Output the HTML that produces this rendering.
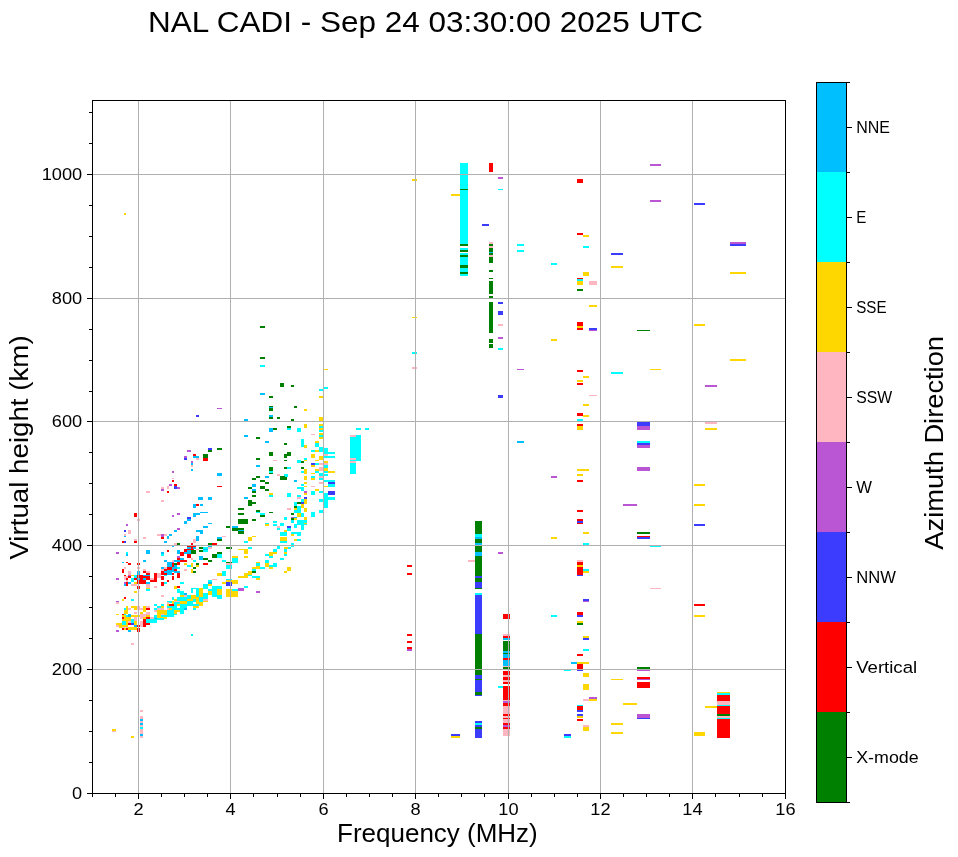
<!DOCTYPE html>
<html><head><meta charset="utf-8"><style>html,body{margin:0;padding:0;background:#fff;overflow:hidden}svg{display:block;will-change:transform}</style></head>
<body><svg width="958" height="857" viewBox="0 0 958 857" >
<rect width="958" height="857" fill="#fff"/>
<rect x="124" y="213" width="2" height="2" fill="#ffd700"/>
<rect x="260" y="326" width="5" height="2" fill="#008000"/>
<rect x="260" y="357" width="5" height="2" fill="#008000"/>
<rect x="260" y="365" width="5" height="2" fill="#00ffff"/>
<rect x="280" y="383" width="4" height="4" fill="#008000"/>
<rect x="291" y="385" width="3" height="2" fill="#008000"/>
<rect x="323" y="369" width="5" height="1" fill="#ffd700"/>
<rect x="319" y="389" width="4" height="2" fill="#00ffff"/>
<rect x="323" y="387" width="5" height="2" fill="#00ffff"/>
<rect x="260" y="393" width="5" height="2" fill="#00bfff"/>
<rect x="269" y="396" width="4" height="2" fill="#008000"/>
<rect x="319" y="396" width="4" height="2" fill="#ffd700"/>
<rect x="217" y="408" width="5" height="1" fill="#ba55d3"/>
<rect x="269" y="406" width="4" height="2" fill="#008000"/>
<rect x="269" y="408" width="4" height="2" fill="#008000"/>
<rect x="294" y="406" width="3" height="2" fill="#008000"/>
<rect x="304" y="409" width="3" height="2" fill="#ffd700"/>
<rect x="196" y="415" width="3" height="2" fill="#3c3cff"/>
<rect x="269" y="410" width="4" height="1" fill="#008000"/>
<rect x="304" y="410" width="3" height="1" fill="#ffd700"/>
<rect x="269" y="415" width="4" height="2" fill="#00bfff"/>
<rect x="269" y="417" width="4" height="2" fill="#008000"/>
<rect x="277" y="417" width="3" height="2" fill="#008000"/>
<rect x="291" y="419" width="3" height="2" fill="#008000"/>
<rect x="244" y="419" width="4" height="2" fill="#00bfff"/>
<rect x="319" y="417" width="4" height="4" fill="#ffd700"/>
<rect x="304" y="424" width="3" height="4" fill="#ffd700"/>
<rect x="287" y="426" width="4" height="2" fill="#008000"/>
<rect x="287" y="428" width="4" height="2" fill="#00ffff"/>
<rect x="269" y="428" width="4" height="4" fill="#00bfff"/>
<rect x="273" y="428" width="4" height="2" fill="#008000"/>
<rect x="297" y="428" width="4" height="4" fill="#00ffff"/>
<rect x="319" y="424" width="4" height="2" fill="#ffd700"/>
<rect x="319" y="426" width="4" height="2" fill="#00ffff"/>
<rect x="319" y="428" width="4" height="2" fill="#ffd700"/>
<rect x="319" y="430" width="4" height="2" fill="#00ffff"/>
<rect x="244" y="435" width="4" height="2" fill="#00bfff"/>
<rect x="256" y="437" width="4" height="2" fill="#008000"/>
<rect x="311" y="434" width="4" height="1" fill="#ffb6c1"/>
<rect x="319" y="433" width="4" height="2" fill="#ffd700"/>
<rect x="319" y="435" width="4" height="2" fill="#00ffff"/>
<rect x="319" y="437" width="4" height="2" fill="#ffd700"/>
<rect x="265" y="441" width="4" height="2" fill="#00bfff"/>
<rect x="284" y="443" width="3" height="2" fill="#008000"/>
<rect x="301" y="439" width="3" height="8" fill="#00ffff"/>
<rect x="304" y="445" width="3" height="3" fill="#ffd700"/>
<rect x="315" y="441" width="4" height="2" fill="#ffd700"/>
<rect x="315" y="443" width="4" height="4" fill="#00ffff"/>
<rect x="208" y="448" width="4" height="2" fill="#3c3cff"/>
<rect x="208" y="450" width="4" height="2" fill="#008000"/>
<rect x="217" y="448" width="5" height="2" fill="#008000"/>
<rect x="203" y="454" width="5" height="4" fill="#008000"/>
<rect x="203" y="458" width="5" height="3" fill="#ff0000"/>
<rect x="269" y="452" width="4" height="4" fill="#008000"/>
<rect x="284" y="454" width="3" height="4" fill="#008000"/>
<rect x="287" y="452" width="4" height="4" fill="#008000"/>
<rect x="311" y="450" width="4" height="2" fill="#00ffff"/>
<rect x="315" y="450" width="4" height="2" fill="#ffd700"/>
<rect x="319" y="447" width="4" height="5" fill="#00ffff"/>
<rect x="324" y="448" width="4" height="6" fill="#00ffff"/>
<rect x="328" y="452" width="7" height="2" fill="#00ffff"/>
<rect x="324" y="454" width="4" height="2" fill="#ffb6c1"/>
<rect x="324" y="456" width="11" height="2" fill="#00ffff"/>
<rect x="311" y="454" width="4" height="4" fill="#ffd700"/>
<rect x="319" y="456" width="4" height="4" fill="#ffd700"/>
<rect x="256" y="458" width="4" height="2" fill="#008000"/>
<rect x="273" y="460" width="4" height="1" fill="#ffb6c1"/>
<rect x="284" y="460" width="3" height="1" fill="#008000"/>
<rect x="297" y="460" width="4" height="3" fill="#00ffff"/>
<rect x="301" y="461" width="3" height="2" fill="#008000"/>
<rect x="304" y="458" width="3" height="2" fill="#00ffff"/>
<rect x="304" y="460" width="3" height="1" fill="#ffd700"/>
<rect x="315" y="460" width="4" height="1" fill="#ffd700"/>
<rect x="324" y="461" width="4" height="2" fill="#ffd700"/>
<rect x="311" y="463" width="4" height="2" fill="#3c3cff"/>
<rect x="315" y="463" width="4" height="2" fill="#00ffff"/>
<rect x="319" y="463" width="4" height="2" fill="#ffb6c1"/>
<rect x="324" y="463" width="4" height="2" fill="#ffb6c1"/>
<rect x="311" y="465" width="4" height="2" fill="#ffd700"/>
<rect x="256" y="465" width="4" height="2" fill="#00bfff"/>
<rect x="324" y="465" width="4" height="3" fill="#00ffff"/>
<rect x="269" y="467" width="4" height="4" fill="#008000"/>
<rect x="269" y="471" width="4" height="2" fill="#00ffff"/>
<rect x="269" y="473" width="4" height="1" fill="#008000"/>
<rect x="284" y="467" width="3" height="2" fill="#008000"/>
<rect x="287" y="467" width="4" height="2" fill="#00ffff"/>
<rect x="301" y="467" width="3" height="2" fill="#008000"/>
<rect x="319" y="467" width="4" height="4" fill="#ffb6c1"/>
<rect x="315" y="469" width="4" height="2" fill="#ffd700"/>
<rect x="304" y="469" width="3" height="5" fill="#ffd700"/>
<rect x="301" y="471" width="3" height="2" fill="#00ffff"/>
<rect x="315" y="471" width="4" height="2" fill="#00ffff"/>
<rect x="324" y="468" width="4" height="3" fill="#ffd700"/>
<rect x="328" y="471" width="7" height="2" fill="#ffd700"/>
<rect x="324" y="471" width="4" height="2" fill="#00ffff"/>
<rect x="311" y="473" width="4" height="1" fill="#ffd700"/>
<rect x="319" y="473" width="4" height="3" fill="#00ffff"/>
<rect x="324" y="474" width="4" height="2" fill="#00ffff"/>
<rect x="217" y="473" width="5" height="3" fill="#00bfff"/>
<rect x="277" y="474" width="3" height="2" fill="#ffb6c1"/>
<rect x="284" y="474" width="3" height="4" fill="#00ffff"/>
<rect x="280" y="476" width="7" height="4" fill="#008000"/>
<rect x="256" y="476" width="4" height="2" fill="#008000"/>
<rect x="252" y="478" width="4" height="2" fill="#008000"/>
<rect x="265" y="476" width="4" height="2" fill="#00bfff"/>
<rect x="304" y="476" width="3" height="4" fill="#ffd700"/>
<rect x="311" y="476" width="4" height="2" fill="#00ffff"/>
<rect x="311" y="478" width="4" height="2" fill="#ffd700"/>
<rect x="319" y="476" width="4" height="2" fill="#ffb6c1"/>
<rect x="319" y="478" width="4" height="2" fill="#00ffff"/>
<rect x="350" y="435" width="11" height="26" fill="#00ffff"/>
<rect x="350" y="461" width="6" height="13" fill="#00ffff"/>
<rect x="350" y="435" width="6" height="2" fill="#ffb6c1"/>
<rect x="350" y="458" width="6" height="2" fill="#ffb6c1"/>
<rect x="350" y="461" width="6" height="2" fill="#ffb6c1"/>
<rect x="356" y="428" width="5" height="2" fill="#00ffff"/>
<rect x="365" y="428" width="4" height="2" fill="#00ffff"/>
<rect x="294" y="480" width="3" height="2" fill="#00bfff"/>
<rect x="324" y="480" width="11" height="2" fill="#00ffff"/>
<rect x="328" y="482" width="7" height="2" fill="#3c3cff"/>
<rect x="328" y="484" width="7" height="3" fill="#00ffff"/>
<rect x="260" y="480" width="5" height="2" fill="#008000"/>
<rect x="265" y="482" width="4" height="2" fill="#008000"/>
<rect x="217" y="486" width="5" height="1" fill="#ff0000"/>
<rect x="319" y="482" width="4" height="2" fill="#ffb6c1"/>
<rect x="304" y="482" width="3" height="2" fill="#ffd700"/>
<rect x="301" y="484" width="3" height="2" fill="#00ffff"/>
<rect x="252" y="484" width="4" height="3" fill="#00bfff"/>
<rect x="248" y="487" width="4" height="2" fill="#008000"/>
<rect x="260" y="486" width="5" height="3" fill="#008000"/>
<rect x="265" y="489" width="4" height="2" fill="#008000"/>
<rect x="252" y="489" width="4" height="2" fill="#00bfff"/>
<rect x="252" y="491" width="4" height="2" fill="#008000"/>
<rect x="297" y="487" width="7" height="2" fill="#00ffff"/>
<rect x="301" y="489" width="3" height="2" fill="#00ffff"/>
<rect x="311" y="486" width="4" height="1" fill="#ffb6c1"/>
<rect x="304" y="486" width="3" height="1" fill="#ffd700"/>
<rect x="324" y="486" width="4" height="1" fill="#ffd700"/>
<rect x="315" y="489" width="4" height="2" fill="#ffd700"/>
<rect x="304" y="491" width="3" height="2" fill="#ba55d3"/>
<rect x="304" y="493" width="3" height="2" fill="#ffd700"/>
<rect x="311" y="491" width="4" height="4" fill="#00ffff"/>
<rect x="319" y="491" width="4" height="2" fill="#00ffff"/>
<rect x="328" y="491" width="7" height="4" fill="#3c3cff"/>
<rect x="324" y="493" width="4" height="15" fill="#00ffff"/>
<rect x="328" y="497" width="7" height="3" fill="#00ffff"/>
<rect x="269" y="493" width="4" height="2" fill="#ffd700"/>
<rect x="269" y="495" width="4" height="2" fill="#00ffff"/>
<rect x="287" y="493" width="4" height="4" fill="#00ffff"/>
<rect x="252" y="495" width="4" height="2" fill="#008000"/>
<rect x="297" y="497" width="4" height="2" fill="#ffb6c1"/>
<rect x="297" y="495" width="4" height="2" fill="#00ffff"/>
<rect x="304" y="497" width="3" height="2" fill="#3c3cff"/>
<rect x="200" y="497" width="3" height="3" fill="#00bfff"/>
<rect x="208" y="497" width="4" height="3" fill="#00bfff"/>
<rect x="244" y="497" width="4" height="2" fill="#00bfff"/>
<rect x="248" y="500" width="4" height="6" fill="#008000"/>
<rect x="252" y="502" width="4" height="2" fill="#008000"/>
<rect x="301" y="499" width="3" height="3" fill="#00ffff"/>
<rect x="304" y="499" width="3" height="5" fill="#ffd700"/>
<rect x="301" y="502" width="3" height="2" fill="#3c3cff"/>
<rect x="297" y="502" width="4" height="2" fill="#008000"/>
<rect x="319" y="499" width="4" height="3" fill="#00ffff"/>
<rect x="294" y="502" width="3" height="6" fill="#00ffff"/>
<rect x="200" y="504" width="3" height="2" fill="#00bfff"/>
<rect x="301" y="504" width="3" height="4" fill="#ffd700"/>
<rect x="294" y="506" width="3" height="2" fill="#008000"/>
<rect x="294" y="508" width="3" height="2" fill="#ffd700"/>
<rect x="287" y="508" width="4" height="2" fill="#ffb6c1"/>
<rect x="297" y="506" width="4" height="7" fill="#00ffff"/>
<rect x="304" y="508" width="3" height="4" fill="#ffd700"/>
<rect x="238" y="508" width="6" height="2" fill="#008000"/>
<rect x="200" y="512" width="8" height="1" fill="#00bfff"/>
<rect x="256" y="510" width="4" height="2" fill="#008000"/>
<rect x="256" y="512" width="4" height="1" fill="#00ffff"/>
<rect x="269" y="512" width="4" height="1" fill="#008000"/>
<rect x="260" y="513" width="5" height="2" fill="#00ffff"/>
<rect x="260" y="515" width="5" height="2" fill="#008000"/>
<rect x="238" y="513" width="6" height="2" fill="#008000"/>
<rect x="294" y="510" width="7" height="3" fill="#00ffff"/>
<rect x="291" y="513" width="3" height="2" fill="#008000"/>
<rect x="297" y="513" width="4" height="4" fill="#ffd700"/>
<rect x="301" y="513" width="3" height="4" fill="#00ffff"/>
<rect x="311" y="512" width="4" height="5" fill="#00ffff"/>
<rect x="319" y="510" width="4" height="3" fill="#00ffff"/>
<rect x="284" y="517" width="3" height="3" fill="#00ffff"/>
<rect x="291" y="517" width="3" height="1" fill="#ba55d3"/>
<rect x="294" y="517" width="3" height="1" fill="#00bfff"/>
<rect x="291" y="518" width="3" height="2" fill="#008000"/>
<rect x="294" y="518" width="3" height="2" fill="#ffd700"/>
<rect x="304" y="517" width="3" height="3" fill="#ffd700"/>
<rect x="238" y="519" width="10" height="5" fill="#008000"/>
<rect x="252" y="519" width="4" height="2" fill="#008000"/>
<rect x="291" y="520" width="3" height="3" fill="#00ffff"/>
<rect x="297" y="520" width="10" height="5" fill="#00ffff"/>
<rect x="304" y="523" width="3" height="1" fill="#ffd700"/>
<rect x="273" y="521" width="4" height="2" fill="#00ffff"/>
<rect x="208" y="523" width="4" height="1" fill="#00bfff"/>
<rect x="203" y="526" width="5" height="2" fill="#00bfff"/>
<rect x="265" y="523" width="4" height="1" fill="#00ffff"/>
<rect x="265" y="524" width="4" height="2" fill="#ffd700"/>
<rect x="273" y="524" width="4" height="2" fill="#00ffff"/>
<rect x="280" y="523" width="4" height="3" fill="#00ffff"/>
<rect x="294" y="524" width="3" height="4" fill="#00ffff"/>
<rect x="226" y="526" width="4" height="2" fill="#008000"/>
<rect x="232" y="526" width="6" height="2" fill="#00bfff"/>
<rect x="232" y="528" width="12" height="3" fill="#008000"/>
<rect x="238" y="530" width="6" height="1" fill="#00bfff"/>
<rect x="238" y="531" width="6" height="3" fill="#008000"/>
<rect x="277" y="526" width="3" height="2" fill="#ffb6c1"/>
<rect x="277" y="528" width="3" height="2" fill="#00ffff"/>
<rect x="287" y="526" width="4" height="2" fill="#3c3cff"/>
<rect x="287" y="528" width="4" height="3" fill="#00ffff"/>
<rect x="301" y="525" width="3" height="5" fill="#00ffff"/>
<rect x="200" y="530" width="3" height="4" fill="#00bfff"/>
<rect x="284" y="530" width="3" height="2" fill="#ffd700"/>
<rect x="280" y="532" width="7" height="4" fill="#00ffff"/>
<rect x="291" y="532" width="10" height="2" fill="#00ffff"/>
<rect x="297" y="534" width="4" height="2" fill="#00ffff"/>
<rect x="291" y="534" width="3" height="2" fill="#ffd700"/>
<rect x="252" y="536" width="4" height="1" fill="#ffd700"/>
<rect x="248" y="537" width="4" height="4" fill="#ffd700"/>
<rect x="222" y="536" width="4" height="1" fill="#ffb6c1"/>
<rect x="217" y="537" width="5" height="2" fill="#00bfff"/>
<rect x="217" y="539" width="5" height="2" fill="#008000"/>
<rect x="280" y="537" width="7" height="4" fill="#ffd700"/>
<rect x="280" y="541" width="7" height="2" fill="#00ffff"/>
<rect x="294" y="539" width="3" height="2" fill="#ffd700"/>
<rect x="297" y="539" width="4" height="2" fill="#00ffff"/>
<rect x="244" y="541" width="4" height="2" fill="#00ffff"/>
<rect x="208" y="543" width="4" height="2" fill="#008000"/>
<rect x="212" y="543" width="5" height="2" fill="#ff0000"/>
<rect x="291" y="543" width="3" height="2" fill="#00ffff"/>
<rect x="161" y="500" width="3" height="2" fill="#ffb6c1"/>
<rect x="193" y="504" width="3" height="4" fill="#00bfff"/>
<rect x="196" y="504" width="3" height="2" fill="#ff0000"/>
<rect x="134" y="513" width="3" height="4" fill="#ff0000"/>
<rect x="137" y="519" width="3" height="2" fill="#ffb6c1"/>
<rect x="172" y="515" width="2" height="2" fill="#ba55d3"/>
<rect x="177" y="513" width="3" height="2" fill="#ba55d3"/>
<rect x="193" y="513" width="3" height="4" fill="#00bfff"/>
<rect x="187" y="517" width="4" height="2" fill="#3c3cff"/>
<rect x="187" y="519" width="4" height="2" fill="#00bfff"/>
<rect x="184" y="521" width="3" height="3" fill="#00bfff"/>
<rect x="126" y="524" width="2" height="2" fill="#ba55d3"/>
<rect x="124" y="530" width="2" height="2" fill="#3c3cff"/>
<rect x="128" y="530" width="3" height="4" fill="#ffb6c1"/>
<rect x="124" y="534" width="2" height="2" fill="#ffb6c1"/>
<rect x="124" y="536" width="2" height="1" fill="#00bfff"/>
<rect x="177" y="528" width="3" height="2" fill="#ba55d3"/>
<rect x="174" y="530" width="3" height="2" fill="#00bfff"/>
<rect x="157" y="534" width="4" height="2" fill="#ffb6c1"/>
<rect x="161" y="534" width="3" height="3" fill="#ba55d3"/>
<rect x="164" y="534" width="3" height="2" fill="#ffb6c1"/>
<rect x="169" y="534" width="3" height="2" fill="#00bfff"/>
<rect x="167" y="536" width="2" height="3" fill="#00bfff"/>
<rect x="161" y="537" width="3" height="2" fill="#ff0000"/>
<rect x="143" y="537" width="3" height="2" fill="#ffb6c1"/>
<rect x="193" y="539" width="3" height="4" fill="#ffb6c1"/>
<rect x="122" y="541" width="2" height="2" fill="#ff0000"/>
<rect x="124" y="541" width="2" height="2" fill="#3c3cff"/>
<rect x="134" y="541" width="3" height="2" fill="#ff0000"/>
<rect x="134" y="539" width="3" height="2" fill="#ffb6c1"/>
<rect x="164" y="541" width="3" height="2" fill="#00bfff"/>
<rect x="174" y="543" width="3" height="2" fill="#ffb6c1"/>
<rect x="177" y="543" width="3" height="2" fill="#008000"/>
<rect x="191" y="543" width="2" height="2" fill="#ff0000"/>
<rect x="172" y="546" width="2" height="1" fill="#00bfff"/>
<rect x="187" y="546" width="9" height="1" fill="#ff0000"/>
<rect x="187" y="547" width="4" height="2" fill="#00bfff"/>
<rect x="191" y="547" width="2" height="2" fill="#ff0000"/>
<rect x="193" y="547" width="3" height="2" fill="#00bfff"/>
<rect x="199" y="547" width="4" height="2" fill="#008000"/>
<rect x="203" y="547" width="5" height="2" fill="#00ffff"/>
<rect x="208" y="547" width="4" height="2" fill="#ffb6c1"/>
<rect x="226" y="547" width="6" height="2" fill="#008000"/>
<rect x="116" y="552" width="3" height="2" fill="#ba55d3"/>
<rect x="126" y="552" width="2" height="2" fill="#00ffff"/>
<rect x="126" y="554" width="2" height="2" fill="#00bfff"/>
<rect x="146" y="550" width="4" height="4" fill="#00bfff"/>
<rect x="161" y="552" width="3" height="2" fill="#00bfff"/>
<rect x="161" y="554" width="3" height="2" fill="#00ffff"/>
<rect x="167" y="550" width="2" height="2" fill="#ff0000"/>
<rect x="177" y="550" width="3" height="4" fill="#00bfff"/>
<rect x="184" y="549" width="10" height="3" fill="#ff0000"/>
<rect x="187" y="550" width="4" height="4" fill="#00bfff"/>
<rect x="191" y="550" width="5" height="4" fill="#008000"/>
<rect x="180" y="552" width="4" height="4" fill="#ff0000"/>
<rect x="184" y="552" width="3" height="2" fill="#00bfff"/>
<rect x="199" y="550" width="4" height="2" fill="#008000"/>
<rect x="203" y="549" width="5" height="3" fill="#00ffff"/>
<rect x="217" y="552" width="5" height="2" fill="#008000"/>
<rect x="212" y="554" width="5" height="4" fill="#008000"/>
<rect x="217" y="554" width="5" height="4" fill="#00ffff"/>
<rect x="187" y="554" width="4" height="4" fill="#ff0000"/>
<rect x="232" y="556" width="6" height="2" fill="#ffd700"/>
<rect x="232" y="558" width="6" height="5" fill="#00ffff"/>
<rect x="199" y="556" width="4" height="4" fill="#00bfff"/>
<rect x="203" y="558" width="5" height="2" fill="#008000"/>
<rect x="191" y="558" width="2" height="2" fill="#ffb6c1"/>
<rect x="177" y="556" width="3" height="2" fill="#ba55d3"/>
<rect x="177" y="558" width="3" height="2" fill="#ff0000"/>
<rect x="180" y="558" width="4" height="2" fill="#00bfff"/>
<rect x="143" y="560" width="3" height="2" fill="#00bfff"/>
<rect x="208" y="560" width="4" height="2" fill="#008000"/>
<rect x="193" y="560" width="3" height="2" fill="#00ffff"/>
<rect x="222" y="560" width="4" height="2" fill="#00ffff"/>
<rect x="184" y="563" width="3" height="2" fill="#ffd700"/>
<rect x="191" y="563" width="2" height="4" fill="#ffd700"/>
<rect x="196" y="563" width="3" height="2" fill="#008000"/>
<rect x="203" y="563" width="5" height="2" fill="#ff0000"/>
<rect x="226" y="562" width="6" height="1" fill="#008000"/>
<rect x="226" y="563" width="6" height="2" fill="#ffb6c1"/>
<rect x="226" y="565" width="6" height="4" fill="#00ffff"/>
<rect x="187" y="565" width="4" height="2" fill="#00ffff"/>
<rect x="193" y="567" width="3" height="2" fill="#008000"/>
<rect x="184" y="569" width="3" height="2" fill="#ffb6c1"/>
<rect x="191" y="569" width="2" height="4" fill="#ffd700"/>
<rect x="193" y="571" width="3" height="2" fill="#008000"/>
<rect x="217" y="573" width="5" height="3" fill="#ffd700"/>
<rect x="222" y="571" width="4" height="5" fill="#00ffff"/>
<rect x="116" y="578" width="3" height="2" fill="#ba55d3"/>
<rect x="212" y="579" width="5" height="1" fill="#ffb6c1"/>
<rect x="226" y="579" width="6" height="1" fill="#00ffff"/>
<rect x="226" y="580" width="12" height="4" fill="#ffd700"/>
<rect x="226" y="582" width="6" height="4" fill="#3c3cff"/>
<rect x="226" y="589" width="12" height="8" fill="#ffd700"/>
<rect x="232" y="589" width="6" height="2" fill="#00ffff"/>
<rect x="238" y="588" width="2" height="3" fill="#ba55d3"/>
<rect x="124" y="597" width="2" height="2" fill="#ff0000"/>
<rect x="122" y="599" width="2" height="2" fill="#ffd700"/>
<rect x="131" y="599" width="3" height="2" fill="#00ffff"/>
<rect x="238" y="549" width="6" height="1" fill="#ffd700"/>
<rect x="244" y="549" width="4" height="5" fill="#ffd700"/>
<rect x="248" y="547" width="4" height="2" fill="#00ffff"/>
<rect x="244" y="556" width="4" height="2" fill="#ffd700"/>
<rect x="277" y="546" width="3" height="3" fill="#00ffff"/>
<rect x="273" y="549" width="4" height="3" fill="#00ffff"/>
<rect x="284" y="547" width="4" height="2" fill="#ffd700"/>
<rect x="288" y="547" width="3" height="2" fill="#00ffff"/>
<rect x="291" y="546" width="3" height="1" fill="#00ffff"/>
<rect x="284" y="549" width="3" height="3" fill="#00ffff"/>
<rect x="284" y="552" width="3" height="2" fill="#ffd700"/>
<rect x="284" y="554" width="3" height="2" fill="#00ffff"/>
<rect x="265" y="554" width="4" height="2" fill="#00ffff"/>
<rect x="269" y="552" width="4" height="4" fill="#ffd700"/>
<rect x="273" y="552" width="4" height="2" fill="#ffd700"/>
<rect x="269" y="556" width="4" height="2" fill="#00ffff"/>
<rect x="280" y="558" width="4" height="2" fill="#00ffff"/>
<rect x="265" y="560" width="4" height="3" fill="#00ffff"/>
<rect x="265" y="563" width="4" height="4" fill="#ffd700"/>
<rect x="269" y="565" width="4" height="2" fill="#00ffff"/>
<rect x="273" y="563" width="4" height="4" fill="#00ffff"/>
<rect x="269" y="567" width="4" height="2" fill="#ffd700"/>
<rect x="256" y="562" width="4" height="1" fill="#ffd700"/>
<rect x="256" y="563" width="4" height="3" fill="#00ffff"/>
<rect x="256" y="566" width="4" height="3" fill="#ffd700"/>
<rect x="260" y="567" width="5" height="2" fill="#00ffff"/>
<rect x="252" y="567" width="4" height="2" fill="#ffd700"/>
<rect x="252" y="569" width="4" height="2" fill="#00ffff"/>
<rect x="252" y="571" width="4" height="2" fill="#008000"/>
<rect x="248" y="571" width="4" height="4" fill="#ffd700"/>
<rect x="244" y="573" width="4" height="5" fill="#ffd700"/>
<rect x="238" y="576" width="6" height="2" fill="#ffd700"/>
<rect x="248" y="575" width="4" height="1" fill="#00ffff"/>
<rect x="252" y="576" width="8" height="2" fill="#00ffff"/>
<rect x="256" y="578" width="4" height="2" fill="#ffd700"/>
<rect x="287" y="567" width="4" height="4" fill="#ffd700"/>
<rect x="284" y="571" width="3" height="2" fill="#ffd700"/>
<rect x="244" y="586" width="4" height="2" fill="#00ffff"/>
<rect x="238" y="588" width="6" height="3" fill="#ba55d3"/>
<rect x="256" y="591" width="4" height="2" fill="#ba55d3"/>
<rect x="131" y="643" width="3" height="2" fill="#ffb6c1"/>
<rect x="191" y="634" width="2" height="2" fill="#00ffff"/>
<rect x="112" y="729" width="4" height="2" fill="#ffd700"/>
<rect x="112" y="731" width="4" height="1" fill="#ffb6c1"/>
<rect x="131" y="736" width="3" height="2" fill="#ffd700"/>
<rect x="140" y="710" width="3" height="2" fill="#ffb6c1"/>
<rect x="140" y="716" width="3" height="22" fill="#ffb6c1"/>
<rect x="140" y="719" width="3" height="2" fill="#00bfff"/>
<rect x="140" y="723" width="3" height="2" fill="#00bfff"/>
<rect x="140" y="727" width="3" height="2" fill="#00ffff"/>
<rect x="140" y="734" width="3" height="2" fill="#00bfff"/>
<rect x="412" y="179" width="5" height="2" fill="#ffd700"/>
<rect x="460" y="163" width="8" height="113" fill="#00ffff"/>
<rect x="460" y="189" width="8" height="1" fill="#008000"/>
<rect x="460" y="244" width="8" height="2" fill="#008000"/>
<rect x="460" y="246" width="8" height="2" fill="#ffffff"/>
<rect x="460" y="250" width="8" height="2" fill="#008000"/>
<rect x="460" y="252" width="8" height="1" fill="#ffffff"/>
<rect x="460" y="255" width="8" height="2" fill="#008000"/>
<rect x="460" y="265" width="8" height="3" fill="#008000"/>
<rect x="460" y="272" width="8" height="2" fill="#008000"/>
<rect x="451" y="194" width="9" height="2" fill="#ffd700"/>
<rect x="489" y="163" width="4" height="9" fill="#ff0000"/>
<rect x="498" y="177" width="5" height="2" fill="#ba55d3"/>
<rect x="498" y="189" width="5" height="1" fill="#00ffff"/>
<rect x="482" y="224" width="7" height="2" fill="#3c3cff"/>
<rect x="489" y="242" width="4" height="2" fill="#ffb6c1"/>
<rect x="489" y="244" width="4" height="2" fill="#008000"/>
<rect x="489" y="246" width="4" height="2" fill="#ffb6c1"/>
<rect x="489" y="248" width="4" height="4" fill="#008000"/>
<rect x="489" y="252" width="4" height="1" fill="#00bfff"/>
<rect x="489" y="253" width="4" height="2" fill="#008000"/>
<rect x="489" y="255" width="4" height="2" fill="#ffb6c1"/>
<rect x="489" y="257" width="4" height="6" fill="#008000"/>
<rect x="489" y="270" width="4" height="2" fill="#008000"/>
<rect x="489" y="278" width="4" height="1" fill="#008000"/>
<rect x="489" y="281" width="4" height="13" fill="#008000"/>
<rect x="517" y="244" width="7" height="2" fill="#00ffff"/>
<rect x="517" y="250" width="7" height="2" fill="#00ffff"/>
<rect x="489" y="290" width="4" height="4" fill="#008000"/>
<rect x="489" y="296" width="4" height="2" fill="#008000"/>
<rect x="489" y="302" width="4" height="31" fill="#008000"/>
<rect x="489" y="339" width="4" height="4" fill="#008000"/>
<rect x="489" y="344" width="4" height="4" fill="#008000"/>
<rect x="498" y="302" width="5" height="2" fill="#3c3cff"/>
<rect x="498" y="311" width="5" height="4" fill="#3c3cff"/>
<rect x="498" y="324" width="5" height="2" fill="#ffb6c1"/>
<rect x="498" y="337" width="5" height="2" fill="#ba55d3"/>
<rect x="498" y="348" width="5" height="2" fill="#00ffff"/>
<rect x="498" y="395" width="5" height="3" fill="#3c3cff"/>
<rect x="412" y="317" width="5" height="1" fill="#ffd700"/>
<rect x="412" y="352" width="5" height="2" fill="#00ffff"/>
<rect x="412" y="367" width="5" height="2" fill="#ffb6c1"/>
<rect x="517" y="369" width="7" height="1" fill="#ba55d3"/>
<rect x="517" y="441" width="7" height="2" fill="#00bfff"/>
<rect x="475" y="521" width="7" height="55" fill="#008000"/>
<rect x="475" y="534" width="7" height="3" fill="#00ffff"/>
<rect x="475" y="537" width="7" height="2" fill="#00bfff"/>
<rect x="475" y="543" width="7" height="3" fill="#00bfff"/>
<rect x="475" y="552" width="7" height="4" fill="#00bfff"/>
<rect x="498" y="552" width="5" height="2" fill="#ba55d3"/>
<rect x="468" y="560" width="7" height="2" fill="#ffb6c1"/>
<rect x="475" y="576" width="7" height="2" fill="#3c3cff"/>
<rect x="475" y="578" width="7" height="4" fill="#008000"/>
<rect x="475" y="582" width="7" height="6" fill="#3c3cff"/>
<rect x="475" y="588" width="7" height="1" fill="#008000"/>
<rect x="475" y="593" width="7" height="2" fill="#00ffff"/>
<rect x="475" y="595" width="7" height="39" fill="#3c3cff"/>
<rect x="475" y="634" width="7" height="41" fill="#008000"/>
<rect x="475" y="675" width="7" height="4" fill="#3c3cff"/>
<rect x="475" y="679" width="7" height="1" fill="#008000"/>
<rect x="475" y="680" width="7" height="12" fill="#3c3cff"/>
<rect x="475" y="692" width="7" height="3" fill="#008000"/>
<rect x="407" y="565" width="5" height="2" fill="#ff0000"/>
<rect x="407" y="573" width="5" height="2" fill="#ff0000"/>
<rect x="407" y="634" width="5" height="2" fill="#ff0000"/>
<rect x="407" y="641" width="5" height="2" fill="#ff0000"/>
<rect x="407" y="647" width="5" height="2" fill="#ff0000"/>
<rect x="407" y="649" width="5" height="2" fill="#ba55d3"/>
<rect x="503" y="614" width="7" height="5" fill="#ff0000"/>
<rect x="503" y="634" width="7" height="2" fill="#ffb6c1"/>
<rect x="503" y="636" width="7" height="2" fill="#ff0000"/>
<rect x="503" y="638" width="7" height="2" fill="#00bfff"/>
<rect x="503" y="641" width="7" height="10" fill="#008000"/>
<rect x="503" y="651" width="7" height="2" fill="#00bfff"/>
<rect x="503" y="653" width="7" height="1" fill="#008000"/>
<rect x="503" y="654" width="7" height="4" fill="#00bfff"/>
<rect x="503" y="658" width="7" height="2" fill="#ff0000"/>
<rect x="503" y="660" width="7" height="6" fill="#00bfff"/>
<rect x="503" y="666" width="7" height="1" fill="#ffb6c1"/>
<rect x="503" y="667" width="7" height="2" fill="#008000"/>
<rect x="503" y="671" width="7" height="4" fill="#ff0000"/>
<rect x="503" y="675" width="7" height="2" fill="#ffb6c1"/>
<rect x="503" y="677" width="7" height="3" fill="#ff0000"/>
<rect x="503" y="680" width="7" height="2" fill="#ffb6c1"/>
<rect x="503" y="682" width="7" height="2" fill="#ff0000"/>
<rect x="503" y="686" width="7" height="14" fill="#ff0000"/>
<rect x="498" y="686" width="5" height="2" fill="#00ffff"/>
<rect x="475" y="695" width="7" height="1" fill="#3c3cff"/>
<rect x="475" y="721" width="7" height="2" fill="#3c3cff"/>
<rect x="475" y="723" width="7" height="2" fill="#00ffff"/>
<rect x="475" y="725" width="7" height="2" fill="#3c3cff"/>
<rect x="475" y="727" width="7" height="2" fill="#008000"/>
<rect x="475" y="729" width="7" height="9" fill="#3c3cff"/>
<rect x="451" y="734" width="9" height="2" fill="#3c3cff"/>
<rect x="451" y="736" width="9" height="2" fill="#ffd700"/>
<rect x="503" y="700" width="7" height="36" fill="#ffb6c1"/>
<rect x="503" y="701" width="7" height="2" fill="#ba55d3"/>
<rect x="503" y="703" width="7" height="3" fill="#ff0000"/>
<rect x="503" y="714" width="7" height="2" fill="#ff0000"/>
<rect x="503" y="718" width="7" height="1" fill="#ff0000"/>
<rect x="503" y="723" width="7" height="2" fill="#ff0000"/>
<rect x="503" y="725" width="7" height="2" fill="#ba55d3"/>
<rect x="503" y="727" width="7" height="2" fill="#ff0000"/>
<rect x="650" y="164" width="11" height="2" fill="#ba55d3"/>
<rect x="577" y="179" width="6" height="4" fill="#ff0000"/>
<rect x="650" y="200" width="11" height="2" fill="#ba55d3"/>
<rect x="577" y="233" width="6" height="2" fill="#ff0000"/>
<rect x="583" y="235" width="6" height="2" fill="#ffd700"/>
<rect x="583" y="246" width="6" height="2" fill="#00ffff"/>
<rect x="611" y="253" width="12" height="2" fill="#3c3cff"/>
<rect x="551" y="263" width="6" height="2" fill="#00ffff"/>
<rect x="611" y="266" width="12" height="2" fill="#ffd700"/>
<rect x="583" y="272" width="6" height="4" fill="#ffd700"/>
<rect x="577" y="278" width="6" height="1" fill="#ff0000"/>
<rect x="577" y="279" width="6" height="2" fill="#00ffff"/>
<rect x="577" y="281" width="6" height="4" fill="#ffd700"/>
<rect x="589" y="281" width="8" height="4" fill="#ffb6c1"/>
<rect x="577" y="289" width="6" height="2" fill="#008000"/>
<rect x="589" y="305" width="8" height="2" fill="#ffd700"/>
<rect x="577" y="322" width="6" height="4" fill="#ff0000"/>
<rect x="577" y="326" width="6" height="2" fill="#ffd700"/>
<rect x="577" y="328" width="6" height="2" fill="#ff0000"/>
<rect x="589" y="328" width="8" height="2" fill="#3c3cff"/>
<rect x="589" y="330" width="8" height="1" fill="#ba55d3"/>
<rect x="637" y="330" width="13" height="1" fill="#008000"/>
<rect x="551" y="339" width="6" height="2" fill="#ffd700"/>
<rect x="577" y="370" width="6" height="2" fill="#ff0000"/>
<rect x="611" y="372" width="12" height="2" fill="#00ffff"/>
<rect x="650" y="369" width="11" height="1" fill="#ffd700"/>
<rect x="583" y="376" width="6" height="2" fill="#ffd700"/>
<rect x="577" y="380" width="6" height="2" fill="#ffd700"/>
<rect x="577" y="383" width="6" height="2" fill="#ff0000"/>
<rect x="589" y="395" width="8" height="1" fill="#ffb6c1"/>
<rect x="583" y="404" width="6" height="2" fill="#ffd700"/>
<rect x="577" y="413" width="6" height="3" fill="#ff0000"/>
<rect x="583" y="415" width="6" height="2" fill="#ffd700"/>
<rect x="577" y="419" width="6" height="2" fill="#00ffff"/>
<rect x="577" y="424" width="6" height="2" fill="#ff0000"/>
<rect x="577" y="426" width="6" height="4" fill="#ffd700"/>
<rect x="637" y="422" width="13" height="4" fill="#3c3cff"/>
<rect x="637" y="426" width="13" height="4" fill="#ba55d3"/>
<rect x="637" y="441" width="13" height="2" fill="#00ffff"/>
<rect x="637" y="443" width="13" height="2" fill="#3c3cff"/>
<rect x="637" y="445" width="13" height="3" fill="#ba55d3"/>
<rect x="637" y="467" width="13" height="4" fill="#ba55d3"/>
<rect x="577" y="469" width="12" height="2" fill="#ffd700"/>
<rect x="577" y="474" width="6" height="2" fill="#ffd700"/>
<rect x="551" y="476" width="6" height="2" fill="#ba55d3"/>
<rect x="577" y="480" width="6" height="2" fill="#ff0000"/>
<rect x="623" y="504" width="14" height="2" fill="#ba55d3"/>
<rect x="577" y="510" width="6" height="2" fill="#ff0000"/>
<rect x="577" y="519" width="6" height="2" fill="#ff0000"/>
<rect x="577" y="521" width="6" height="2" fill="#3c3cff"/>
<rect x="577" y="523" width="6" height="1" fill="#ff0000"/>
<rect x="583" y="532" width="6" height="2" fill="#ffd700"/>
<rect x="637" y="532" width="13" height="2" fill="#008000"/>
<rect x="551" y="537" width="6" height="2" fill="#ffd700"/>
<rect x="637" y="536" width="13" height="1" fill="#ff0000"/>
<rect x="637" y="537" width="13" height="2" fill="#3c3cff"/>
<rect x="583" y="543" width="6" height="2" fill="#00ffff"/>
<rect x="650" y="546" width="11" height="1" fill="#00ffff"/>
<rect x="577" y="560" width="6" height="2" fill="#ffb6c1"/>
<rect x="577" y="562" width="6" height="3" fill="#ff0000"/>
<rect x="577" y="565" width="6" height="2" fill="#ffd700"/>
<rect x="577" y="567" width="6" height="8" fill="#ff0000"/>
<rect x="577" y="575" width="6" height="1" fill="#3c3cff"/>
<rect x="583" y="569" width="6" height="2" fill="#00ffff"/>
<rect x="583" y="571" width="6" height="2" fill="#ffd700"/>
<rect x="650" y="588" width="11" height="1" fill="#ffb6c1"/>
<rect x="583" y="599" width="6" height="2" fill="#3c3cff"/>
<rect x="583" y="601" width="6" height="1" fill="#ba55d3"/>
<rect x="551" y="615" width="6" height="2" fill="#00ffff"/>
<rect x="577" y="612" width="6" height="3" fill="#ff0000"/>
<rect x="577" y="615" width="6" height="2" fill="#3c3cff"/>
<rect x="577" y="621" width="6" height="2" fill="#ffd700"/>
<rect x="577" y="623" width="6" height="2" fill="#008000"/>
<rect x="583" y="636" width="6" height="2" fill="#ffd700"/>
<rect x="583" y="638" width="6" height="2" fill="#3c3cff"/>
<rect x="583" y="649" width="6" height="2" fill="#00ffff"/>
<rect x="577" y="654" width="6" height="2" fill="#ff0000"/>
<rect x="571" y="662" width="6" height="2" fill="#00bfff"/>
<rect x="577" y="662" width="12" height="2" fill="#ffd700"/>
<rect x="577" y="664" width="6" height="5" fill="#ff0000"/>
<rect x="564" y="670" width="7" height="1" fill="#00ffff"/>
<rect x="577" y="670" width="6" height="1" fill="#3c3cff"/>
<rect x="583" y="673" width="6" height="4" fill="#ffd700"/>
<rect x="583" y="684" width="6" height="6" fill="#ffd700"/>
<rect x="611" y="679" width="12" height="1" fill="#ffd700"/>
<rect x="637" y="667" width="13" height="2" fill="#008000"/>
<rect x="637" y="670" width="13" height="1" fill="#ba55d3"/>
<rect x="637" y="677" width="13" height="2" fill="#ff0000"/>
<rect x="637" y="679" width="13" height="1" fill="#ba55d3"/>
<rect x="637" y="682" width="13" height="6" fill="#ff0000"/>
<rect x="589" y="697" width="8" height="2" fill="#ba55d3"/>
<rect x="589" y="699" width="8" height="2" fill="#ffd700"/>
<rect x="583" y="699" width="6" height="2" fill="#ffb6c1"/>
<rect x="577" y="705" width="6" height="1" fill="#00ffff"/>
<rect x="577" y="706" width="6" height="4" fill="#ff0000"/>
<rect x="577" y="710" width="6" height="2" fill="#3c3cff"/>
<rect x="577" y="714" width="6" height="2" fill="#3c3cff"/>
<rect x="577" y="716" width="6" height="2" fill="#ffd700"/>
<rect x="577" y="719" width="6" height="2" fill="#ff0000"/>
<rect x="583" y="725" width="6" height="2" fill="#ffb6c1"/>
<rect x="583" y="727" width="6" height="4" fill="#ffd700"/>
<rect x="564" y="734" width="7" height="2" fill="#3c3cff"/>
<rect x="564" y="736" width="7" height="2" fill="#00ffff"/>
<rect x="623" y="703" width="14" height="2" fill="#ffd700"/>
<rect x="637" y="714" width="13" height="4" fill="#ba55d3"/>
<rect x="637" y="718" width="13" height="1" fill="#3c3cff"/>
<rect x="611" y="723" width="12" height="2" fill="#ffd700"/>
<rect x="611" y="732" width="12" height="2" fill="#ffd700"/>
<rect x="694" y="203" width="11" height="2" fill="#3c3cff"/>
<rect x="730" y="242" width="16" height="2" fill="#ba55d3"/>
<rect x="730" y="244" width="16" height="2" fill="#3c3cff"/>
<rect x="730" y="272" width="16" height="2" fill="#ffd700"/>
<rect x="694" y="324" width="11" height="2" fill="#ffd700"/>
<rect x="730" y="359" width="16" height="2" fill="#ffd700"/>
<rect x="705" y="385" width="12" height="2" fill="#ba55d3"/>
<rect x="705" y="422" width="12" height="2" fill="#ffb6c1"/>
<rect x="705" y="428" width="12" height="2" fill="#ffd700"/>
<rect x="694" y="484" width="11" height="2" fill="#ffd700"/>
<rect x="694" y="504" width="11" height="2" fill="#ffd700"/>
<rect x="694" y="524" width="11" height="2" fill="#3c3cff"/>
<rect x="694" y="604" width="11" height="2" fill="#ff0000"/>
<rect x="694" y="615" width="11" height="2" fill="#ffd700"/>
<rect x="717" y="692" width="13" height="1" fill="#ffd700"/>
<rect x="717" y="693" width="13" height="2" fill="#00ffff"/>
<rect x="717" y="695" width="13" height="6" fill="#ff0000"/>
<rect x="717" y="701" width="13" height="4" fill="#ffb6c1"/>
<rect x="717" y="705" width="13" height="1" fill="#00ffff"/>
<rect x="717" y="706" width="13" height="8" fill="#ff0000"/>
<rect x="717" y="714" width="13" height="2" fill="#008000"/>
<rect x="717" y="716" width="13" height="2" fill="#ffb6c1"/>
<rect x="717" y="718" width="13" height="1" fill="#00ffff"/>
<rect x="717" y="719" width="13" height="19" fill="#ff0000"/>
<rect x="705" y="706" width="12" height="2" fill="#ffd700"/>
<rect x="694" y="732" width="11" height="4" fill="#ffd700"/>
<rect x="187" y="450" width="4" height="2" fill="#ba55d3"/>
<rect x="193" y="454" width="3" height="2" fill="#ff0000"/>
<rect x="184" y="456" width="3" height="2" fill="#ba55d3"/>
<rect x="184" y="458" width="3" height="2" fill="#3c3cff"/>
<rect x="193" y="456" width="6" height="2" fill="#00bfff"/>
<rect x="196" y="458" width="3" height="2" fill="#ffb6c1"/>
<rect x="191" y="461" width="2" height="2" fill="#ba55d3"/>
<rect x="191" y="463" width="2" height="2" fill="#00bfff"/>
<rect x="191" y="465" width="2" height="2" fill="#ffb6c1"/>
<rect x="191" y="469" width="2" height="2" fill="#00bfff"/>
<rect x="172" y="471" width="2" height="2" fill="#ba55d3"/>
<rect x="172" y="478" width="2" height="1" fill="#ffb6c1"/>
<rect x="172" y="480" width="2" height="2" fill="#ff0000"/>
<rect x="169" y="484" width="3" height="2" fill="#ba55d3"/>
<rect x="174" y="484" width="3" height="2" fill="#ff0000"/>
<rect x="174" y="486" width="3" height="3" fill="#3c3cff"/>
<rect x="177" y="487" width="3" height="2" fill="#ba55d3"/>
<rect x="167" y="486" width="2" height="3" fill="#ffb6c1"/>
<rect x="161" y="487" width="3" height="2" fill="#ffb6c1"/>
<rect x="161" y="489" width="3" height="2" fill="#ba55d3"/>
<rect x="167" y="491" width="2" height="2" fill="#ff0000"/>
<rect x="146" y="491" width="4" height="2" fill="#ffb6c1"/>
<rect x="269" y="407" width="4" height="1" fill="#00bfff"/>
<rect x="285" y="474" width="3" height="3" fill="#00ffff"/>
<rect x="196" y="513" width="4" height="2" fill="#00bfff"/>
<rect x="196" y="530" width="4" height="2" fill="#00bfff"/>
<rect x="196" y="536" width="3" height="5" fill="#00bfff"/>
<rect x="198" y="497" width="2" height="3" fill="#00bfff"/>
<rect x="126" y="555" width="2" height="1" fill="#00bfff"/>
<rect x="143" y="560" width="3" height="2" fill="#00bfff"/>
<rect x="122" y="562" width="2" height="1" fill="#00bfff"/>
<rect x="126" y="562" width="2" height="1" fill="#ff0000"/>
<rect x="128" y="563" width="3" height="2" fill="#ff0000"/>
<rect x="137" y="563" width="3" height="2" fill="#ff0000"/>
<rect x="124" y="567" width="2" height="2" fill="#ffb6c1"/>
<rect x="137" y="567" width="3" height="2" fill="#ffb6c1"/>
<rect x="122" y="569" width="2" height="4" fill="#ff0000"/>
<rect x="128" y="571" width="3" height="4" fill="#ffb6c1"/>
<rect x="137" y="571" width="3" height="4" fill="#00bfff"/>
<rect x="143" y="569" width="3" height="2" fill="#ffb6c1"/>
<rect x="143" y="571" width="3" height="2" fill="#ff0000"/>
<rect x="146" y="571" width="4" height="2" fill="#ffb6c1"/>
<rect x="146" y="573" width="4" height="2" fill="#ff0000"/>
<rect x="154" y="573" width="3" height="9" fill="#ff0000"/>
<rect x="157" y="573" width="4" height="5" fill="#ffb6c1"/>
<rect x="150" y="578" width="4" height="2" fill="#ffb6c1"/>
<rect x="150" y="580" width="7" height="2" fill="#ff0000"/>
<rect x="124" y="575" width="2" height="1" fill="#ff0000"/>
<rect x="128" y="575" width="3" height="1" fill="#ba55d3"/>
<rect x="131" y="575" width="3" height="1" fill="#ffd700"/>
<rect x="124" y="576" width="4" height="4" fill="#ffb6c1"/>
<rect x="128" y="576" width="3" height="2" fill="#ff0000"/>
<rect x="134" y="575" width="3" height="3" fill="#00ffff"/>
<rect x="137" y="575" width="6" height="7" fill="#ff0000"/>
<rect x="143" y="575" width="7" height="1" fill="#00bfff"/>
<rect x="143" y="576" width="7" height="2" fill="#ff0000"/>
<rect x="143" y="578" width="3" height="2" fill="#00bfff"/>
<rect x="146" y="578" width="4" height="2" fill="#ff0000"/>
<rect x="140" y="580" width="6" height="4" fill="#ff0000"/>
<rect x="126" y="578" width="2" height="2" fill="#ff0000"/>
<rect x="131" y="578" width="3" height="4" fill="#00ffff"/>
<rect x="134" y="578" width="3" height="2" fill="#ff0000"/>
<rect x="126" y="580" width="2" height="2" fill="#ffb6c1"/>
<rect x="137" y="578" width="3" height="2" fill="#00bfff"/>
<rect x="124" y="582" width="2" height="2" fill="#ba55d3"/>
<rect x="124" y="584" width="2" height="2" fill="#00bfff"/>
<rect x="126" y="582" width="2" height="4" fill="#ff0000"/>
<rect x="128" y="582" width="3" height="2" fill="#00bfff"/>
<rect x="131" y="584" width="6" height="2" fill="#ffb6c1"/>
<rect x="134" y="582" width="3" height="2" fill="#ffd700"/>
<rect x="137" y="582" width="3" height="2" fill="#ff0000"/>
<rect x="146" y="582" width="4" height="2" fill="#00bfff"/>
<rect x="146" y="584" width="4" height="4" fill="#ffb6c1"/>
<rect x="146" y="588" width="4" height="1" fill="#ffd700"/>
<rect x="146" y="589" width="4" height="2" fill="#00ffff"/>
<rect x="137" y="586" width="3" height="3" fill="#ff0000"/>
<rect x="134" y="591" width="3" height="2" fill="#ffd700"/>
<rect x="154" y="586" width="3" height="2" fill="#ffb6c1"/>
<rect x="161" y="582" width="3" height="4" fill="#ff0000"/>
<rect x="164" y="582" width="3" height="2" fill="#00ffff"/>
<rect x="167" y="580" width="2" height="2" fill="#ff0000"/>
<rect x="150" y="580" width="7" height="2" fill="#ff0000"/>
<rect x="167" y="580" width="2" height="2" fill="#ff0000"/>
<rect x="208" y="580" width="4" height="2" fill="#00ffff"/>
<rect x="226" y="580" width="12" height="2" fill="#ffd700"/>
<rect x="161" y="582" width="3" height="4" fill="#ff0000"/>
<rect x="164" y="582" width="3" height="2" fill="#00ffff"/>
<rect x="180" y="582" width="4" height="2" fill="#00ffff"/>
<rect x="208" y="582" width="4" height="2" fill="#00bfff"/>
<rect x="208" y="584" width="4" height="2" fill="#ffd700"/>
<rect x="222" y="582" width="4" height="2" fill="#ffd700"/>
<rect x="226" y="582" width="6" height="4" fill="#3c3cff"/>
<rect x="232" y="582" width="6" height="2" fill="#ffd700"/>
<rect x="154" y="586" width="3" height="2" fill="#ffb6c1"/>
<rect x="174" y="586" width="3" height="3" fill="#ffd700"/>
<rect x="177" y="586" width="3" height="2" fill="#ff0000"/>
<rect x="203" y="584" width="5" height="4" fill="#00ffff"/>
<rect x="212" y="586" width="10" height="3" fill="#00ffff"/>
<rect x="177" y="589" width="3" height="4" fill="#00ffff"/>
<rect x="191" y="588" width="8" height="5" fill="#00ffff"/>
<rect x="193" y="589" width="3" height="4" fill="#ffffff"/>
<rect x="199" y="588" width="4" height="9" fill="#ffd700"/>
<rect x="203" y="588" width="5" height="1" fill="#00ffff"/>
<rect x="208" y="589" width="4" height="2" fill="#00ffff"/>
<rect x="208" y="591" width="4" height="4" fill="#ffd700"/>
<rect x="212" y="589" width="5" height="8" fill="#00ffff"/>
<rect x="217" y="589" width="5" height="6" fill="#ffd700"/>
<rect x="217" y="595" width="5" height="4" fill="#00ffff"/>
<rect x="180" y="591" width="4" height="4" fill="#00ffff"/>
<rect x="184" y="593" width="3" height="2" fill="#00bfff"/>
<rect x="187" y="595" width="4" height="4" fill="#00ffff"/>
<rect x="203" y="593" width="5" height="6" fill="#00ffff"/>
<rect x="199" y="597" width="4" height="5" fill="#00ffff"/>
<rect x="196" y="593" width="3" height="7" fill="#00ffff"/>
<rect x="191" y="595" width="5" height="5" fill="#ffd700"/>
<rect x="184" y="595" width="3" height="2" fill="#ffb6c1"/>
<rect x="184" y="597" width="3" height="2" fill="#ffd700"/>
<rect x="180" y="595" width="4" height="2" fill="#ffd700"/>
<rect x="161" y="595" width="3" height="2" fill="#ffb6c1"/>
<rect x="172" y="597" width="2" height="3" fill="#00ffff"/>
<rect x="177" y="597" width="10" height="4" fill="#00ffff"/>
<rect x="174" y="599" width="3" height="2" fill="#ffd700"/>
<rect x="187" y="599" width="6" height="2" fill="#ffd700"/>
<rect x="193" y="599" width="3" height="3" fill="#00ffff"/>
<rect x="196" y="597" width="3" height="9" fill="#ffd700"/>
<rect x="203" y="599" width="5" height="2" fill="#ffb6c1"/>
<rect x="203" y="601" width="5" height="1" fill="#ffd700"/>
<rect x="167" y="601" width="5" height="2" fill="#00ffff"/>
<rect x="167" y="602" width="2" height="2" fill="#ffb6c1"/>
<rect x="172" y="601" width="2" height="3" fill="#ffd700"/>
<rect x="174" y="601" width="6" height="1" fill="#ffb6c1"/>
<rect x="174" y="602" width="6" height="2" fill="#00ffff"/>
<rect x="180" y="601" width="7" height="3" fill="#ffd700"/>
<rect x="187" y="601" width="6" height="5" fill="#00ffff"/>
<rect x="199" y="602" width="4" height="4" fill="#ffd700"/>
<rect x="154" y="604" width="3" height="2" fill="#00ffff"/>
<rect x="161" y="604" width="3" height="2" fill="#00ffff"/>
<rect x="167" y="604" width="2" height="2" fill="#ffd700"/>
<rect x="169" y="604" width="5" height="2" fill="#ff0000"/>
<rect x="174" y="604" width="3" height="2" fill="#00ffff"/>
<rect x="177" y="604" width="3" height="2" fill="#ffd700"/>
<rect x="180" y="604" width="7" height="4" fill="#00ffff"/>
<rect x="193" y="604" width="6" height="2" fill="#00ffff"/>
<rect x="193" y="606" width="6" height="2" fill="#ffd700"/>
<rect x="157" y="606" width="4" height="2" fill="#00ffff"/>
<rect x="161" y="606" width="3" height="2" fill="#ffd700"/>
<rect x="167" y="606" width="10" height="2" fill="#00ffff"/>
<rect x="157" y="608" width="7" height="2" fill="#ffb6c1"/>
<rect x="154" y="608" width="3" height="2" fill="#00ffff"/>
<rect x="167" y="608" width="2" height="2" fill="#ffb6c1"/>
<rect x="169" y="608" width="3" height="2" fill="#ffd700"/>
<rect x="172" y="608" width="15" height="2" fill="#00ffff"/>
<rect x="184" y="608" width="3" height="2" fill="#00bfff"/>
<rect x="193" y="608" width="3" height="2" fill="#00ffff"/>
<rect x="154" y="610" width="3" height="2" fill="#ffb6c1"/>
<rect x="157" y="610" width="10" height="9" fill="#ffd700"/>
<rect x="167" y="610" width="7" height="7" fill="#00ffff"/>
<rect x="174" y="610" width="3" height="4" fill="#ffd700"/>
<rect x="177" y="610" width="3" height="2" fill="#ffd700"/>
<rect x="180" y="610" width="4" height="4" fill="#00ffff"/>
<rect x="174" y="614" width="3" height="1" fill="#00ffff"/>
<rect x="154" y="615" width="3" height="5" fill="#00ffff"/>
<rect x="161" y="614" width="3" height="2" fill="#ffb6c1"/>
<rect x="161" y="615" width="13" height="2" fill="#00ffff"/>
<rect x="161" y="617" width="6" height="1" fill="#ffd700"/>
<rect x="150" y="617" width="4" height="1" fill="#ffb6c1"/>
<rect x="157" y="618" width="7" height="2" fill="#00ffff"/>
<rect x="154" y="618" width="3" height="2" fill="#00bfff"/>
<rect x="164" y="560" width="3" height="2" fill="#00bfff"/>
<rect x="172" y="560" width="2" height="2" fill="#ffb6c1"/>
<rect x="174" y="560" width="6" height="2" fill="#00bfff"/>
<rect x="172" y="562" width="2" height="1" fill="#ba55d3"/>
<rect x="180" y="560" width="7" height="2" fill="#ff0000"/>
<rect x="167" y="562" width="5" height="5" fill="#00bfff"/>
<rect x="172" y="563" width="2" height="4" fill="#ff0000"/>
<rect x="174" y="563" width="3" height="2" fill="#008000"/>
<rect x="174" y="565" width="3" height="2" fill="#00bfff"/>
<rect x="177" y="562" width="3" height="3" fill="#ff0000"/>
<rect x="177" y="567" width="3" height="2" fill="#00ffff"/>
<rect x="161" y="567" width="3" height="2" fill="#00bfff"/>
<rect x="164" y="567" width="3" height="2" fill="#ffb6c1"/>
<rect x="167" y="567" width="5" height="3" fill="#ff0000"/>
<rect x="172" y="567" width="2" height="5" fill="#00bfff"/>
<rect x="174" y="567" width="3" height="2" fill="#00bfff"/>
<rect x="174" y="569" width="3" height="2" fill="#ff0000"/>
<rect x="161" y="569" width="3" height="2" fill="#ffb6c1"/>
<rect x="164" y="569" width="3" height="2" fill="#ff0000"/>
<rect x="161" y="571" width="3" height="4" fill="#ff0000"/>
<rect x="164" y="571" width="3" height="2" fill="#00bfff"/>
<rect x="164" y="573" width="4" height="2" fill="#ff0000"/>
<rect x="167" y="570" width="5" height="5" fill="#00bfff"/>
<rect x="174" y="571" width="6" height="2" fill="#00bfff"/>
<rect x="172" y="573" width="2" height="2" fill="#ff0000"/>
<rect x="177" y="573" width="3" height="5" fill="#ff0000"/>
<rect x="164" y="575" width="3" height="1" fill="#00ffff"/>
<rect x="161" y="576" width="3" height="4" fill="#ff0000"/>
<rect x="172" y="576" width="2" height="4" fill="#ff0000"/>
<rect x="116" y="601" width="3" height="1" fill="#ba55d3"/>
<rect x="116" y="602" width="3" height="2" fill="#ffb6c1"/>
<rect x="122" y="600" width="2" height="1" fill="#ffd700"/>
<rect x="131" y="600" width="3" height="1" fill="#00ffff"/>
<rect x="126" y="606" width="2" height="6" fill="#ffd700"/>
<rect x="124" y="608" width="2" height="2" fill="#00ffff"/>
<rect x="124" y="610" width="4" height="4" fill="#ffd700"/>
<rect x="128" y="608" width="3" height="2" fill="#ffb6c1"/>
<rect x="131" y="606" width="6" height="2" fill="#ffd700"/>
<rect x="134" y="608" width="3" height="2" fill="#ffd700"/>
<rect x="137" y="606" width="3" height="4" fill="#ffb6c1"/>
<rect x="140" y="608" width="3" height="2" fill="#ffb6c1"/>
<rect x="143" y="606" width="3" height="6" fill="#ffd700"/>
<rect x="146" y="606" width="4" height="2" fill="#ffb6c1"/>
<rect x="146" y="608" width="4" height="2" fill="#ff0000"/>
<rect x="134" y="612" width="3" height="2" fill="#ffb6c1"/>
<rect x="140" y="612" width="3" height="2" fill="#ffd700"/>
<rect x="146" y="612" width="4" height="3" fill="#ffb6c1"/>
<rect x="116" y="614" width="3" height="1" fill="#ffd700"/>
<rect x="122" y="614" width="2" height="1" fill="#ff0000"/>
<rect x="124" y="614" width="2" height="1" fill="#00ffff"/>
<rect x="122" y="615" width="9" height="6" fill="#ffd700"/>
<rect x="122" y="617" width="2" height="2" fill="#ff0000"/>
<rect x="126" y="615" width="2" height="2" fill="#00ffff"/>
<rect x="128" y="614" width="3" height="3" fill="#00bfff"/>
<rect x="131" y="615" width="9" height="2" fill="#ffd700"/>
<rect x="131" y="617" width="3" height="2" fill="#ffffff"/>
<rect x="134" y="617" width="3" height="4" fill="#ffb6c1"/>
<rect x="140" y="614" width="6" height="3" fill="#ffb6c1"/>
<rect x="146" y="615" width="4" height="2" fill="#ffd700"/>
<rect x="146" y="617" width="4" height="2" fill="#ff0000"/>
<rect x="150" y="617" width="4" height="2" fill="#ffb6c1"/>
<rect x="143" y="617" width="3" height="2" fill="#ffd700"/>
<rect x="140" y="617" width="3" height="8" fill="#ffb6c1"/>
<rect x="140" y="619" width="3" height="2" fill="#ffffff"/>
<rect x="143" y="619" width="3" height="8" fill="#ff0000"/>
<rect x="122" y="621" width="4" height="4" fill="#00ffff"/>
<rect x="126" y="619" width="2" height="6" fill="#ffd700"/>
<rect x="128" y="621" width="3" height="2" fill="#ffb6c1"/>
<rect x="131" y="619" width="3" height="4" fill="#00ffff"/>
<rect x="134" y="621" width="3" height="4" fill="#ffd700"/>
<rect x="146" y="619" width="11" height="4" fill="#00ffff"/>
<rect x="116" y="623" width="6" height="2" fill="#ffd700"/>
<rect x="119" y="625" width="9" height="2" fill="#ffd700"/>
<rect x="116" y="625" width="3" height="2" fill="#ffb6c1"/>
<rect x="119" y="627" width="3" height="1" fill="#ffd700"/>
<rect x="128" y="623" width="3" height="2" fill="#ff0000"/>
<rect x="131" y="623" width="3" height="2" fill="#3c3cff"/>
<rect x="134" y="625" width="3" height="3" fill="#00bfff"/>
<rect x="137" y="625" width="3" height="2" fill="#ff0000"/>
<rect x="140" y="625" width="3" height="2" fill="#ffb6c1"/>
<rect x="146" y="623" width="4" height="2" fill="#ff0000"/>
<rect x="122" y="627" width="6" height="1" fill="#ffb6c1"/>
<rect x="128" y="627" width="3" height="1" fill="#00ffff"/>
<rect x="122" y="628" width="2" height="2" fill="#ff0000"/>
<rect x="124" y="628" width="2" height="2" fill="#ffd700"/>
<rect x="126" y="628" width="2" height="2" fill="#ff0000"/>
<rect x="128" y="627" width="9" height="3" fill="#ffd700"/>
<rect x="137" y="628" width="3" height="4" fill="#ff0000"/>
<rect x="116" y="630" width="3" height="2" fill="#ba55d3"/>
<rect x="128" y="630" width="3" height="2" fill="#00bfff"/>
<rect x="208" y="546" width="4" height="1" fill="#00bfff"/>
<rect x="203" y="549" width="5" height="1" fill="#00bfff"/>
<rect x="196" y="549" width="3" height="1" fill="#ffb6c1"/>
<rect x="196" y="565" width="3" height="2" fill="#ffd700"/>
<rect x="138" y="100" width="1" height="693" fill="#b0b0b0"/>
<rect x="230" y="100" width="1" height="693" fill="#b0b0b0"/>
<rect x="323" y="100" width="1" height="693" fill="#b0b0b0"/>
<rect x="415" y="100" width="1" height="693" fill="#b0b0b0"/>
<rect x="508" y="100" width="1" height="693" fill="#b0b0b0"/>
<rect x="600" y="100" width="1" height="693" fill="#b0b0b0"/>
<rect x="692" y="100" width="1" height="693" fill="#b0b0b0"/>
<rect x="92" y="669" width="693" height="1" fill="#b0b0b0"/>
<rect x="92" y="545" width="693" height="1" fill="#b0b0b0"/>
<rect x="92" y="421" width="693" height="1" fill="#b0b0b0"/>
<rect x="92" y="298" width="693" height="1" fill="#b0b0b0"/>
<rect x="92" y="174" width="693" height="1" fill="#b0b0b0"/>
<rect x="92" y="100" width="694" height="1" fill="#000"/>
<rect x="92" y="793" width="694" height="1" fill="#000"/>
<rect x="92" y="100" width="1" height="694" fill="#000"/>
<rect x="785" y="100" width="1" height="694" fill="#000"/>
<rect x="92" y="793" width="1" height="4" fill="#000"/>
<rect x="115" y="793" width="1" height="4" fill="#000"/>
<rect x="138" y="793" width="1" height="6" fill="#000"/>
<rect x="161" y="793" width="1" height="4" fill="#000"/>
<rect x="184" y="793" width="1" height="4" fill="#000"/>
<rect x="207" y="793" width="1" height="4" fill="#000"/>
<rect x="230" y="793" width="1" height="6" fill="#000"/>
<rect x="253" y="793" width="1" height="4" fill="#000"/>
<rect x="277" y="793" width="1" height="4" fill="#000"/>
<rect x="300" y="793" width="1" height="4" fill="#000"/>
<rect x="323" y="793" width="1" height="6" fill="#000"/>
<rect x="346" y="793" width="1" height="4" fill="#000"/>
<rect x="369" y="793" width="1" height="4" fill="#000"/>
<rect x="392" y="793" width="1" height="4" fill="#000"/>
<rect x="415" y="793" width="1" height="6" fill="#000"/>
<rect x="438" y="793" width="1" height="4" fill="#000"/>
<rect x="461" y="793" width="1" height="4" fill="#000"/>
<rect x="484" y="793" width="1" height="4" fill="#000"/>
<rect x="508" y="793" width="1" height="6" fill="#000"/>
<rect x="531" y="793" width="1" height="4" fill="#000"/>
<rect x="554" y="793" width="1" height="4" fill="#000"/>
<rect x="577" y="793" width="1" height="4" fill="#000"/>
<rect x="600" y="793" width="1" height="6" fill="#000"/>
<rect x="623" y="793" width="1" height="4" fill="#000"/>
<rect x="646" y="793" width="1" height="4" fill="#000"/>
<rect x="669" y="793" width="1" height="4" fill="#000"/>
<rect x="692" y="793" width="1" height="6" fill="#000"/>
<rect x="715" y="793" width="1" height="4" fill="#000"/>
<rect x="739" y="793" width="1" height="4" fill="#000"/>
<rect x="762" y="793" width="1" height="4" fill="#000"/>
<rect x="785" y="793" width="1" height="6" fill="#000"/>
<text x="138.5" y="814.9" font-family="Liberation Sans, sans-serif" font-size="17.1" text-anchor="middle" textLength="10.13" lengthAdjust="spacingAndGlyphs">2</text>
<text x="230.5" y="814.9" font-family="Liberation Sans, sans-serif" font-size="17.1" text-anchor="middle" textLength="10.13" lengthAdjust="spacingAndGlyphs">4</text>
<text x="323.5" y="814.9" font-family="Liberation Sans, sans-serif" font-size="17.1" text-anchor="middle" textLength="10.13" lengthAdjust="spacingAndGlyphs">6</text>
<text x="415.5" y="814.9" font-family="Liberation Sans, sans-serif" font-size="17.1" text-anchor="middle" textLength="10.13" lengthAdjust="spacingAndGlyphs">8</text>
<text x="508.5" y="814.9" font-family="Liberation Sans, sans-serif" font-size="17.1" text-anchor="middle" textLength="20.26" lengthAdjust="spacingAndGlyphs">10</text>
<text x="600.5" y="814.9" font-family="Liberation Sans, sans-serif" font-size="17.1" text-anchor="middle" textLength="20.26" lengthAdjust="spacingAndGlyphs">12</text>
<text x="692.5" y="814.9" font-family="Liberation Sans, sans-serif" font-size="17.1" text-anchor="middle" textLength="20.26" lengthAdjust="spacingAndGlyphs">14</text>
<text x="785.5" y="814.9" font-family="Liberation Sans, sans-serif" font-size="17.1" text-anchor="middle" textLength="20.26" lengthAdjust="spacingAndGlyphs">16</text>
<rect x="87" y="793" width="5" height="1" fill="#000"/>
<rect x="89" y="762" width="3" height="1" fill="#000"/>
<rect x="89" y="731" width="3" height="1" fill="#000"/>
<rect x="89" y="700" width="3" height="1" fill="#000"/>
<rect x="87" y="669" width="5" height="1" fill="#000"/>
<rect x="89" y="638" width="3" height="1" fill="#000"/>
<rect x="89" y="607" width="3" height="1" fill="#000"/>
<rect x="89" y="576" width="3" height="1" fill="#000"/>
<rect x="87" y="545" width="5" height="1" fill="#000"/>
<rect x="89" y="514" width="3" height="1" fill="#000"/>
<rect x="89" y="483" width="3" height="1" fill="#000"/>
<rect x="89" y="452" width="3" height="1" fill="#000"/>
<rect x="87" y="421" width="5" height="1" fill="#000"/>
<rect x="89" y="391" width="3" height="1" fill="#000"/>
<rect x="89" y="360" width="3" height="1" fill="#000"/>
<rect x="89" y="329" width="3" height="1" fill="#000"/>
<rect x="87" y="298" width="5" height="1" fill="#000"/>
<rect x="89" y="267" width="3" height="1" fill="#000"/>
<rect x="89" y="236" width="3" height="1" fill="#000"/>
<rect x="89" y="205" width="3" height="1" fill="#000"/>
<rect x="87" y="174" width="5" height="1" fill="#000"/>
<rect x="89" y="143" width="3" height="1" fill="#000"/>
<rect x="89" y="112" width="3" height="1" fill="#000"/>
<text x="82.2" y="798.60" font-family="Liberation Sans, sans-serif" font-size="17.1" text-anchor="end" textLength="10.13" lengthAdjust="spacingAndGlyphs">0</text>
<text x="82.2" y="674.60" font-family="Liberation Sans, sans-serif" font-size="17.1" text-anchor="end" textLength="30.39" lengthAdjust="spacingAndGlyphs">200</text>
<text x="82.2" y="550.60" font-family="Liberation Sans, sans-serif" font-size="17.1" text-anchor="end" textLength="30.39" lengthAdjust="spacingAndGlyphs">400</text>
<text x="82.2" y="426.60" font-family="Liberation Sans, sans-serif" font-size="17.1" text-anchor="end" textLength="30.39" lengthAdjust="spacingAndGlyphs">600</text>
<text x="82.2" y="303.60" font-family="Liberation Sans, sans-serif" font-size="17.1" text-anchor="end" textLength="30.39" lengthAdjust="spacingAndGlyphs">800</text>
<text x="82.2" y="179.60" font-family="Liberation Sans, sans-serif" font-size="17.1" text-anchor="end" textLength="40.52" lengthAdjust="spacingAndGlyphs">1000</text>
<rect x="816" y="82" width="30" height="90" fill="#00bfff"/>
<rect x="816" y="172" width="30" height="90" fill="#00ffff"/>
<rect x="816" y="262" width="30" height="90" fill="#ffd700"/>
<rect x="816" y="352" width="30" height="90" fill="#ffb6c1"/>
<rect x="816" y="442" width="30" height="90" fill="#ba55d3"/>
<rect x="816" y="532" width="30" height="90" fill="#3c3cff"/>
<rect x="816" y="622" width="30" height="90" fill="#ff0000"/>
<rect x="816" y="712" width="30" height="90" fill="#008000"/>
<rect x="816" y="82" width="31" height="1" fill="#000"/>
<rect x="816" y="802" width="31" height="1" fill="#000"/>
<rect x="816" y="82" width="1" height="721" fill="#000"/>
<rect x="846" y="82" width="1" height="721" fill="#000"/>
<rect x="846" y="82" width="4" height="1" fill="#000"/>
<rect x="846" y="172" width="4" height="1" fill="#000"/>
<rect x="846" y="262" width="4" height="1" fill="#000"/>
<rect x="846" y="352" width="4" height="1" fill="#000"/>
<rect x="846" y="442" width="4" height="1" fill="#000"/>
<rect x="846" y="532" width="4" height="1" fill="#000"/>
<rect x="846" y="622" width="4" height="1" fill="#000"/>
<rect x="846" y="712" width="4" height="1" fill="#000"/>
<rect x="846" y="802" width="4" height="1" fill="#000"/>
<rect x="846" y="127" width="6" height="1" fill="#000"/>
<text x="856.2" y="133.07" font-family="Liberation Sans, sans-serif" font-size="17.1" textLength="33.77" lengthAdjust="spacingAndGlyphs">NNE</text>
<rect x="846" y="217" width="6" height="1" fill="#000"/>
<text x="856.2" y="223.07" font-family="Liberation Sans, sans-serif" font-size="17.1" textLength="10.06" lengthAdjust="spacingAndGlyphs">E</text>
<rect x="846" y="307" width="6" height="1" fill="#000"/>
<text x="856.2" y="313.07" font-family="Liberation Sans, sans-serif" font-size="17.1" textLength="30.30" lengthAdjust="spacingAndGlyphs">SSE</text>
<rect x="846" y="397" width="6" height="1" fill="#000"/>
<text x="856.2" y="403.07" font-family="Liberation Sans, sans-serif" font-size="17.1" textLength="35.95" lengthAdjust="spacingAndGlyphs">SSW</text>
<rect x="846" y="487" width="6" height="1" fill="#000"/>
<text x="856.2" y="493.07" font-family="Liberation Sans, sans-serif" font-size="17.1" textLength="15.70" lengthAdjust="spacingAndGlyphs">W</text>
<rect x="846" y="577" width="6" height="1" fill="#000"/>
<text x="856.2" y="583.07" font-family="Liberation Sans, sans-serif" font-size="17.1" textLength="39.60" lengthAdjust="spacingAndGlyphs">NNW</text>
<rect x="846" y="667" width="6" height="1" fill="#000"/>
<text x="856.2" y="673.07" font-family="Liberation Sans, sans-serif" font-size="17.1" textLength="60.95" lengthAdjust="spacingAndGlyphs">Vertical</text>
<rect x="846" y="757" width="6" height="1" fill="#000"/>
<text x="856.2" y="763.07" font-family="Liberation Sans, sans-serif" font-size="17.1" textLength="62.45" lengthAdjust="spacingAndGlyphs">X-mode</text>
<text x="148" y="31.5" font-family="Liberation Sans, sans-serif" font-size="29.4" textLength="555.08" lengthAdjust="spacingAndGlyphs">NAL CADI - Sep 24 03:30:00 2025 UTC</text>
<text x="337.1" y="841.8" font-family="Liberation Sans, sans-serif" font-size="26.5" textLength="200.62" lengthAdjust="spacingAndGlyphs">Frequency (MHz)</text>
<text transform="translate(28,559.6) rotate(-90)" font-family="Liberation Sans, sans-serif" font-size="26.5" textLength="224.22" lengthAdjust="spacingAndGlyphs">Virtual height (km)</text>
<text transform="translate(942.8,549.7) rotate(-90)" font-family="Liberation Sans, sans-serif" font-size="26.5" textLength="213.70" lengthAdjust="spacingAndGlyphs">Azimuth Direction</text>
</svg></body></html>
